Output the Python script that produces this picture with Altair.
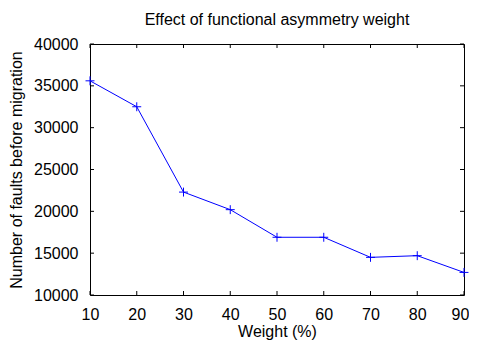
import altair as alt
import pandas as pd

weights = [10, 20, 30, 40, 50, 60, 70, 80, 90]
faults = [35600, 32500, 22300, 20200, 16900, 16900, 14500, 14700, 12700]
x_ticks = [10, 20, 30, 40, 50, 60, 70, 80, 90]
y_ticks = [10000, 15000, 20000, 25000, 30000, 35000, 40000]

W, H = 374, 251
TL = 4
FONT = "Liberation Sans"

df = pd.DataFrame({"w": weights, "f": faults})
xt = pd.DataFrame({"w": x_ticks})
yt = pd.DataFrame({"f": y_ticks})

xs = alt.Scale(domain=[10, 90], nice=False, zero=False)
ys = alt.Scale(domain=[10000, 40000], nice=False, zero=False)
xax = alt.Axis(values=x_ticks, title="Weight (%)", format="d", labelPadding=11, titlePadding=1,
               labelFlush=False,
               labelOffset={"condition": {"test": "datum.value == 90", "value": -4}, "value": 0})
yax = alt.Axis(values=y_ticks, title="Number of faults before migration", format="d",
               labelPadding=12, titlePadding=9, labelFlush=False)

line = alt.Chart(df).mark_line(color="#0000ff", strokeWidth=1, clip=False).encode(
    x=alt.X("w:Q", scale=xs, axis=xax),
    y=alt.Y("f:Q", scale=ys, axis=yax),
)
pts = alt.Chart(df).mark_point(shape="M-1,0L1,0M0,-1L0,1", size=80, color="#0000ff",
                               strokeWidth=1, filled=False, opacity=1, clip=False).encode(
    x=alt.X("w:Q", scale=xs, axis=xax),
    y=alt.Y("f:Q", scale=ys, axis=yax),
)

xb = alt.Chart(xt).mark_rule(color="black", strokeWidth=1).encode(
    x=alt.X("w:Q", scale=xs, axis=xax), y=alt.value(H), y2=alt.value(H - TL))
xtop = alt.Chart(xt).mark_rule(color="black", strokeWidth=1).encode(
    x=alt.X("w:Q", scale=xs, axis=xax), y=alt.value(0), y2=alt.value(TL))
yl = alt.Chart(yt).mark_rule(color="black", strokeWidth=1).encode(
    y=alt.Y("f:Q", scale=ys, axis=yax), x=alt.value(0), x2=alt.value(TL))
yr = alt.Chart(yt).mark_rule(color="black", strokeWidth=1).encode(
    y=alt.Y("f:Q", scale=ys, axis=yax), x=alt.value(W), x2=alt.value(W - TL))

chart = alt.layer(line, pts, xb, xtop, yl, yr).properties(
    width=W, height=H,
    title=alt.TitleParams("Effect of functional asymmetry weight", font=FONT, fontSize=16,
                          fontWeight="normal", color="black", anchor="middle", offset=8),
    autosize=alt.AutoSizeParams(type="none"),
    padding={"left": 82, "top": 36, "right": 5, "bottom": 46},
).configure_view(stroke="black", strokeWidth=1).configure_axis(
    grid=False, domain=False, ticks=False, labelFont=FONT, labelFontSize=16, labelColor="black",
    titleFont=FONT, titleFontSize=16, titleFontWeight="normal", titleColor="black",
)

chart.save("out.html", embed_options={"renderer": "svg", "actions": False})
